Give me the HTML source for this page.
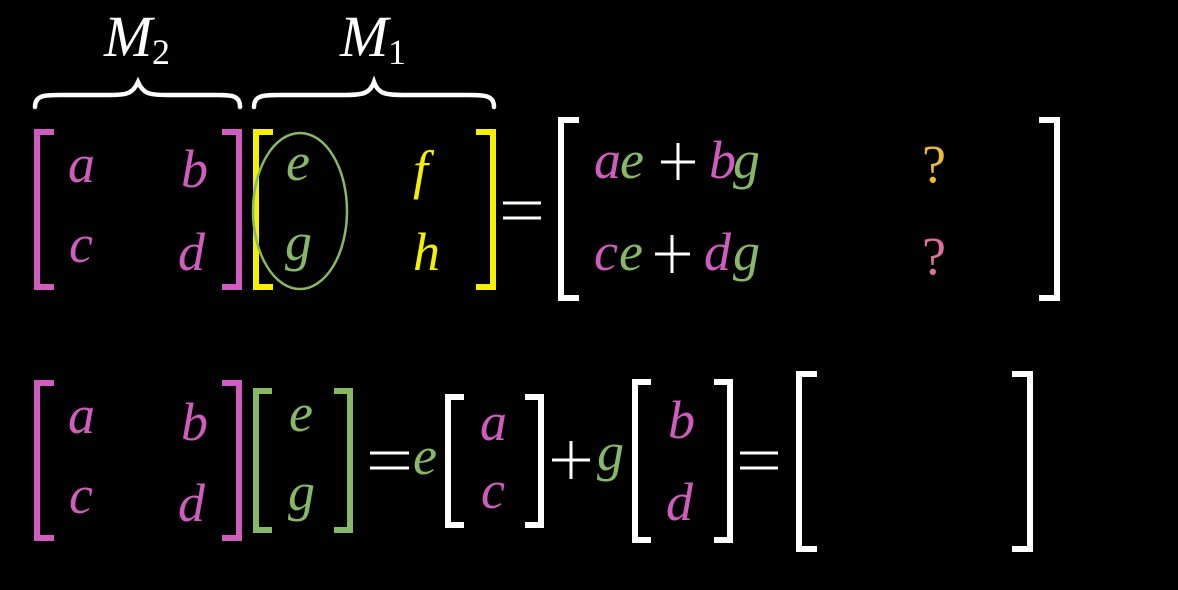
<!DOCTYPE html>
<html><head><style>
html,body{margin:0;padding:0;background:#000;}
svg{display:block}
text{font-family:"Liberation Serif",serif;font-style:italic;font-size:54px;}
.p{fill:#D15CC0}.g{fill:#86B866}.y{fill:#F5F000}.w{fill:#fff}
.u{font-style:normal}
</style></head><body>
<svg width="1178" height="590" viewBox="0 0 1178 590">
<g fill="none" stroke-width="6">
<path d="M54,132 H37 V287 H54 M222,132 H239 V287 H222" stroke="#D15CC0"/>
<path d="M273,132 H256 V287 H273 M476,132 H493 V287 H476" stroke="#F5F000"/>
<path d="M579,120 H561 V298 H579 M1039,120 H1057 V298 H1039" stroke="#fff"/>
<path d="M54,383 H37 V538 H54 M222,383 H239 V538 H222" stroke="#D15CC0"/>
<path d="M272,391 H256 V530 H272 M334,391 H350 V530 H334" stroke="#86B866"/>
<path d="M464,397 H448 V525 H464 M525,397 H541 V525 H525" stroke="#fff"/>
<path d="M651,382 H635 V540 H651 M714,382 H730 V540 H714" stroke="#fff"/>
<path d="M817,374 H799 V549 H817 M1012,374 H1030 V549 H1012" stroke="#fff"/>
</g>
<ellipse cx="300" cy="211" rx="47" ry="78" fill="none" stroke="#86B866" stroke-width="2.5"/>
<g fill="none" stroke="#fff" stroke-width="4.5" stroke-linecap="round">
<path d="M35,107 C35,95 45,95 60,95 L110,95 C128,95 133,93 138,82 C143,93 148,95 166,95 L216,95 C231,95 240,95 240,107"/>
<path d="M254,107 C254,95 264,95 280,95 L345,95 C364,95 370,93 374,82 C378,93 384,95 403,95 L468,95 C484,95 494,95 494,107"/>
</g>
<!-- = and + as lines -->
<g stroke="#fff" stroke-width="3">
<path d="M503,203 H541 M503,218 H541"/>
<path d="M661,162 H695 M678,143 V180"/>
<path d="M655,254 H690 M672,235 V273"/>
<path d="M370,453 H409 M370,468 H409"/>
<path d="M552,460 H590 M571,441 V479"/>
<path d="M740,453 H778 M740,468 H778"/>
</g>
<text class="w" x="104" y="56" style="font-size:58px">M</text><text class="w u" x="152" y="64" style="font-size:36px">2</text>
<text class="w" x="340" y="56" style="font-size:58px">M</text><text class="w u" x="388" y="64" style="font-size:36px">1</text>
<text class="p" x="68" y="182">a</text><text class="p" x="181" y="187">b</text>
<text class="p" x="69" y="262">c</text><text class="p" x="178" y="270">d</text>
<text class="g" x="286" y="180">e</text><text class="y" x="413" y="188">f</text>
<text class="g" x="285" y="260">g</text><text class="y" x="413" y="270">h</text>
<text class="p" x="594" y="178">a</text><text class="g" x="620" y="178">e</text>
<text class="p" x="709" y="178">b</text><text class="g" x="733" y="178">g</text>
<text class="p" x="594" y="270">c</text><text class="g" x="619" y="270">e</text>
<text class="p" x="704" y="270">d</text><text class="g" x="733" y="270">g</text>
<text class="u" x="922" y="182" style="fill:#F0B83A">?</text>
<text class="u" x="922" y="274" style="fill:#E0709A">?</text>
<text class="p" x="68" y="433">a</text><text class="p" x="181" y="440">b</text>
<text class="p" x="69" y="513">c</text><text class="p" x="178" y="521">d</text>
<text class="g" x="289" y="431">e</text><text class="g" x="288" y="510">g</text>
<text class="g" x="413" y="474">e</text>
<text class="p" x="480" y="440">a</text><text class="p" x="481" y="508">c</text>
<text class="g" x="597" y="470">g</text>
<text class="p" x="668" y="438">b</text><text class="p" x="666" y="520">d</text>
</svg>
</body></html>
